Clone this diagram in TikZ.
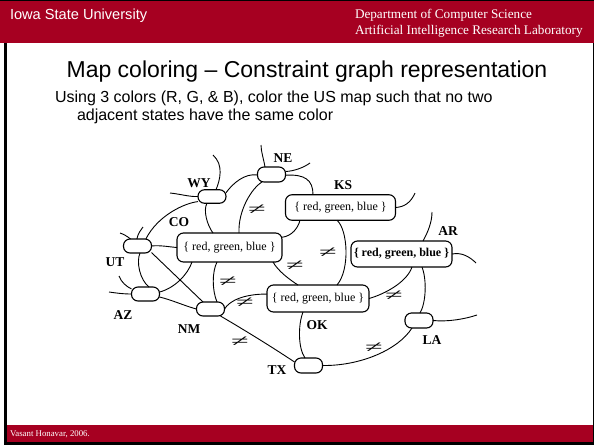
\documentclass[tikz,border=0pt]{standalone}
\usepackage{fontspec}
\setmainfont{Liberation Serif}
\newfontfamily\arialf{Liberation Sans}
\definecolor{isured}{RGB}{166,0,33}
\begin{document}
\begin{tikzpicture}[x=1pt,y=-1pt,
  every node/.style={inner sep=0pt, outer sep=0pt},
  statebox/.style={draw, line width=1.1pt, rounded corners=6.5pt, minimum width=28pt, minimum height=14pt},
  dombox/.style={draw, line width=1.1pt, rounded corners=6.5pt, minimum height=27pt, font=\fontsize{12}{14}\selectfont},
  lbl/.style={font=\fontsize{13.5}{15}\selectfont\bfseries},
  conn/.style={line width=0.9pt},
  neqmark/.style={font=\fontsize{16}{16}\selectfont},
  hdr/.style={anchor=base west, text=white}
]
\useasboundingbox (0,0) rectangle (594,445);
% slide frame
\fill[white] (0,0) rectangle (594,445);
\fill[isured] (0,0) rectangle (594,43);
\fill[black] (0,0) rectangle (594,1.2);
\fill[black] (4,43) rectangle (6.5,445);
\fill[black] (592.5,43) rectangle (594,445);
\fill[isured] (6.5,425) rectangle (592.5,441.5);
\fill[black] (4,441.5) rectangle (594,445);
% header / footer texts
\node[hdr, font=\arialf\fontsize{14.6}{16}\selectfont] (isu) at (10,19) {Iowa State University};
\node[hdr, font=\fontsize{13.2}{15}\selectfont] (dept1) at (355,18.5) {Department of Computer Science};
\node[hdr, font=\fontsize{13.2}{15}\selectfont] (dept2) at (355,34) {Artificial Intelligence Research Laboratory};
\node[hdr, font=\fontsize{8.8}{10}\selectfont] (foot) at (10,436) {Vasant Honavar, 2006.};
% title
\node[anchor=base, font=\arialf\fontsize{23}{27}\selectfont] (title) at (307,77) {Map coloring – Constraint graph representation};
\node[anchor=base west, font=\arialf\fontsize{16}{19}\selectfont] (sub1) at (55,102) {Using 3 colors (R, G, \& B), color the US map such that no two};
\node[anchor=base west, font=\arialf\fontsize{16}{19}\selectfont] (sub2) at (77,120) {adjacent states have the same color};
% variable nodes
\node[statebox, minimum height=15pt] (NE) at (271.5,174.5) {};
\node[statebox, minimum height=13.5pt] (WY) at (212,196.5) {};
\node[statebox] (UT) at (137.5,246) {};
\node[statebox] (AZ) at (145.5,294) {};
\node[statebox] (NM) at (210.5,309) {};
\node[statebox, minimum height=15pt] (TX) at (308.5,365.5) {};
\node[statebox, minimum height=15pt] (LA) at (419,320.5) {};
\node[dombox, minimum width=105pt, minimum height=29pt] (CO) at (229.5,247.5) {\{ red, green, blue \}};
\node[dombox, minimum width=110pt, minimum height=25.5pt] (KS) at (340.5,207.5) {\{ red, green, blue \}};
\node[dombox, minimum width=101pt, minimum height=26pt, font=\fontsize{12}{14}\selectfont\bfseries] (AR) at (401.5,254) {\{ red, green, blue \}};
\node[dombox, minimum width=102pt] (OK) at (318,298.5) {\{ red, green, blue \}};
% labels
\node[lbl] (lNE) at (283,158) {NE};
\node[lbl] (lWY) at (199,183) {WY};
\node[lbl] (lCO) at (179,222) {CO};
\node[lbl] (lUT) at (115,262) {UT};
\node[lbl] (lAZ) at (123,315) {AZ};
\node[lbl] (lNM) at (189,329) {NM};
\node[lbl] (lKS) at (343,185) {KS};
\node[lbl] (lAR) at (448,231) {AR};
\node[lbl] (lOK) at (317,325) {OK};
\node[lbl] (lLA) at (432,340) {LA};
\node[lbl] (lTX) at (277,370) {TX};
% free ends
\coordinate (wyt) at (213,155);
\coordinate (wyl) at (170,193);
\coordinate (net) at (261,145);
\coordinate (ner) at (310,163);
\coordinate (ksr) at (415,193);
\coordinate (utl) at (120,233);
\coordinate (utt) at (143,227);
\coordinate (azl) at (109,292);
\coordinate (azu) at (119,276);
\coordinate (art) at (432,212);
\coordinate (arr) at (476,263);
\coordinate (lar) at (477,315);
% edges
\begin{scope}[conn]
\draw (WY.15) .. controls (233,183) and (245,173) .. (NE.182);
\draw ([xshift=-9.5pt]NE.south) .. controls (252,188) and (238,210) .. ([xshift=9.5pt]CO.north);
\draw ([xshift=-5pt]WY.south) .. controls (203,210) and (207,225) .. ([xshift=-16.5pt]CO.north);
\draw (WY.200) .. controls (185,203) and (158,215) .. (UT.40);
\draw (WY.west) .. controls (190,197) and (180,194) .. (wyl);
\draw ([xshift=4pt]WY.north) .. controls (220,180) and (224,165) .. (wyt);
\draw ([xshift=-6.5pt]NE.north) .. controls (264,160) and (261,152) .. (net);
\draw (NE.12) .. controls (294,171) and (303,168) .. (ner);
\draw (NE.-3) .. controls (305,174) and (313,180) .. ([xshift=-27.5pt]KS.north);
\draw (KS.east) .. controls (405,207) and (411,202) .. (ksr);
\draw ([xshift=-40.5pt]KS.south) .. controls (298,228) and (292,236) .. (CO.11);
\draw ([xshift=-3.5pt]KS.south) .. controls (348,230) and (350,270) .. ([xshift=19pt]OK.north);
\draw ([xshift=43.5pt]CO.south) .. controls (278,271) and (290,280) .. ([xshift=-20pt]OK.north);
\draw ([xshift=-12.5pt]CO.south) .. controls (212,272) and (212,290) .. ([xshift=6.5pt]NM.north);
\draw ([xshift=-37.5pt]CO.south) .. controls (188,274) and (175,288) .. (AZ.8);
\draw (UT.-25) -- ([xshift=-7.5pt]NM.north);
\draw ([xshift=2.5pt]UT.south) .. controls (136,262) and (140,280) .. ([xshift=3.5pt]AZ.north);
\draw (UT.east) .. controls (160,245) and (170,247) .. (CO.west);
\draw (UT.135) .. controls (127,236) and (123,234) .. (utl);
\draw (UT.95) .. controls (138,233) and (141,230) .. (utt);
\draw (AZ.west) .. controls (123,294) and (116,293) .. (azl);
\draw (AZ.160) .. controls (127,287) and (121,282) .. (azu);
\draw (AZ.-12) .. controls (172,300) and (185,306) .. (NM.west);
\draw (NM.east) .. controls (230,300) and (245,294) .. (OK.175);
\draw (NM.-35) .. controls (246,331) and (272,347) .. (TX.166);
\draw ([xshift=-15pt]OK.south) .. controls (298,325) and (298,348) .. ([xshift=-3.5pt]TX.north);
\draw (TX.east) .. controls (360,366) and (398,350) .. ([xshift=-7pt]LA.south);
\draw ([xshift=20.5pt]AR.south) .. controls (427,280) and (426,303) .. ([xshift=1pt]LA.north);
\draw ([xshift=10.5pt]AR.south) .. controls (407,282) and (385,294) .. (OK.east);
\draw ([xshift=21.5pt]AR.north) .. controls (428,232) and (432,222) .. (art);
\draw (AR.east) .. controls (462,252) and (470,257) .. (arr);
\draw (LA.east) .. controls (448,322) and (465,319) .. (lar);
\end{scope}
% inequality marks
\foreach \n/\p in {q1/{(257,210)}, q2/{(328,253)}, q3/{(295,265.5)}, q4/{(228,282)}, q5/{(245,303)}, q6/{(240,342)}, q7/{(394,295.5)}, q8/{(374,348)}}
  \node[neqmark] (\n) at \p {\scalebox{2.0}[1]{≠}};
\end{tikzpicture}
\end{document}
